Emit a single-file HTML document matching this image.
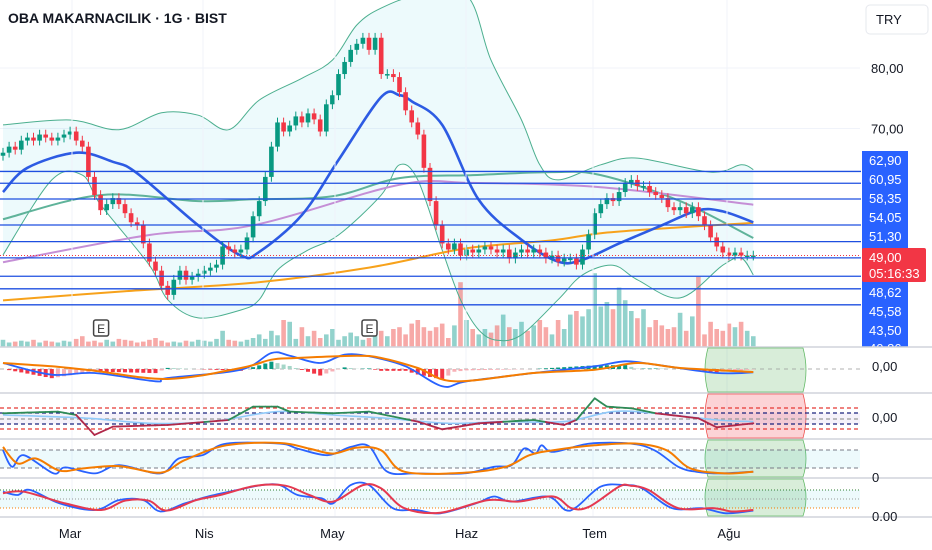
<!DOCTYPE html>
<html><head><meta charset="utf-8"><style>
html,body{margin:0;padding:0;background:#fff;}
svg{display:block;font-family:"Liberation Sans",sans-serif;}
</style></head><body>
<svg id="c" width="932" height="550" viewBox="0 0 932 550"></svg>
<script>
// ---- data ----
const closes=[66,67,66.5,68,68.5,68,69,68.5,68,68.5,69,69.5,68,67,62,59,56.5,57.5,58.5,57.5,56,54.5,54,51,48,46.5,44,42.5,45,46.5,45,45.5,46,46.5,47,47.5,50.5,50,49.5,50,52,55.5,58,62,67,71,69.5,70.5,72,71,72.5,71.5,69.5,74,75.5,79,81,83,84,85,83,85,79,79,78.5,76,73,71,69,63.5,58,54,51,50,51,49,50,49.5,50,50.5,50,49.5,50,48.5,49.5,50,49.5,50,49.5,48.5,49,48,48.5,48.5,47.5,50,52.5,56,57.5,58.5,58,59.5,61,61.5,60.5,60.5,59.5,59,58.5,57,56.5,57,56,57,55.5,54,52,50.5,49.5,49,49.5,49,49,49];
const volumes=[8,5,6,7,6,8,5,7,6,5,7,6,9,12,6,7,5,8,6,9,8,7,5,6,8,10,7,5,6,5,7,6,8,7,6,9,18,8,7,6,8,10,14,9,18,13,30,28,9,22,12,18,10,14,20,8,12,16,12,8,10,14,18,12,20,22,14,26,30,22,18,22,26,10,24,72,30,20,14,20,16,24,36,22,20,28,18,24,30,22,14,30,20,36,40,34,42,82,45,50,42,66,52,40,32,42,22,30,24,20,22,38,18,34,78,14,28,20,18,26,22,28,18,12];
const levels=[62.90,60.95,58.35,54.05,51.30,48.62,45.58,43.50,40.86];
const levelLabels=["62,90","60,95","58,35","54,05","51,30","48,62","45,58","43,50","40,86"];
const lastPrice=49.00;
const priceTicks=[80,70];
const priceTickLabels=["80,00","70,00"];
const maBlueIdx=[0,4,12,18,22,32,39,42,49,55,62,65,67,72,78,85,91,95,101,108,114,118,123];
const maBlueVal=[59.5,63.5,66,64.5,62.6,54,49,49.6,55.7,64.8,75.2,75.5,74.5,70.6,58.2,51.6,48,48.3,51,54,56.5,56.3,54.5];
const maOrangeIdx=[0,20,41,60,76,90,98,110,123];
const maOrangeVal=[41.6,43.1,44.5,47,50.2,51.5,52.7,53.6,54.4];
const maPurpleIdx=[0,24,41,65,77,98,123];
const maPurpleVal=[47.9,52.4,54,60.7,61,60.3,57.4];
const maTealIdx=[0,16,32,41,54,65,77,90,98,111,123];
const maTealVal=[55,59,58,58.3,58.8,61.8,62.3,62.8,62.3,58,51.9];
const bbUpIdx=[0,11,19,26,32,37,42,49,54,58,62,68,76,80,85,88,91,98,104,116,121,123];
const bbUpVal=[70.6,71.4,69.8,72.6,72.2,69.8,74.7,78.3,81.3,87.1,89.9,92,92,81.3,71.4,64,61.5,64,65.1,62.8,64,63.2];
const bbLoIdx=[0,8,13,16,24,27,32,39,42,45,50,55,62,65,68,72,75,78,81,85,91,95,100,104,111,118,121,123];
const bbLoVal=[49.1,61.5,62.3,57.4,47.4,41.7,38.7,40,41.7,46.6,49.9,52.4,59,64,61.5,49.9,41.7,36.7,35,35.9,41.7,45.8,47.4,45,42,47.4,48.6,45.8];
const macdIdx=[0,8,15,25,27,39,44,47,52,56,60,66,72,76,87,97,102,107,117,123];
const macdVal=[1.8,-1.7,-1.2,-3.7,-2.7,-0.2,4.8,4,1.8,4.3,3.8,0.8,-5.2,-3.7,-1.2,0.8,2.3,1.3,-1.2,-1];
const sigIdx=[0,8,15,27,39,44,48,58,62,68,74,87,97,104,111,123];
const sigVal=[1.8,0.8,-0.5,-3,0.3,2.8,3.3,4,3.3,0.3,-3.7,-1.2,-0.2,1.8,0.3,-0.9];
const oscIdx=[0,9,12,15,18,27,37,41,45,47,54,60,68,72,78,87,92,94,97,99,103,107,114,117,123];
const oscVal=[15,20,10,-50,-25,-20,-5,35,35,20,15,20,-10,-33,-15,-5,-20,-5,60,35,30,15,0,-27,-15];
const oscSigIdx=[0,14,24,34,45,54,63,73,82,92,100,107,117,123];
const oscSigVal=[10,0,-15,-10,20,10,0,-15,-10,-10,20,15,-5,-10];
const stKIdx=[0,1.5,3.4,8.3,10.2,15.1,19,25.8,28.8,32.7,36.6,45.4,48.3,53.2,57,60,63,67.8,75.6,80.5,83.4,85.4,87.3,88.3,90.2,96.1,102.9,106.8,110.7,113.6,117.6,123];
const stKVal=[75,25,60,5,23,5,30,5,50,60,95,95,80,60,85,87,10,5,5,25,30,80,65,90,70,95,95,75,25,10,5,10];
const stDIdx=[0,2.4,5.4,9.3,13.2,19,25.8,29.8,36.6,45.4,50.2,54.1,58,62,65.8,75.6,82.4,86.3,90.2,97,103.9,108.8,112.7,118.5,123];
const stDVal=[85,35,50,13,20,27,7,45,90,97,80,65,83,75,10,7,25,60,75,90,95,75,20,5,10];
const rBlueIdx=[0,2.4,4.4,9.3,15.1,19,23,25.8,29.8,33.6,38.5,42.4,45.4,48.3,52.2,54.1,57,60,63.9,67.8,71.7,77.5,80.5,83.4,89.3,92.2,94.1,98,101.9,104.8,109.7,114.6,118.5,123];
const rBlueVal=[72,61,78,33,11,44,44,6,33,56,78,94,94,61,50,33,94,94,17,11,0,33,56,39,56,11,22,89,94,83,17,17,0,9];
const rRedIdx=[0,3.4,10.2,16.1,20,23.9,26.8,31.7,35.6,41.5,46.3,50.2,54.1,59,62,65.8,71.7,79.5,84.4,90.2,93.2,96.1,101,102.9,105.8,110.7,116.6,119.5,123];
const rRedVal=[67,72,33,11,42,42,9,44,61,92,92,61,39,94,83,17,2,44,39,56,17,22,89,92,78,17,17,6,11];
const monthLabels=["Mar","Nis","May","Haz","Tem","Ağu"];
const monthIdx=[11,33,54,76,97,119];
const earningsIdx=[16,60];

// ---- scales ----
const xi=i=>3+i*6.1;
const py=p=>68+(80-p)*6.05;
const vy=v=>347-v*0.9;
const p1=v=>369-v*3.33;
const p2=v=>418.3-v/3;
const p3=v=>475-v*0.33;
const p4=v=>513.3-v*0.3;
const NS="http://www.w3.org/2000/svg";
const svg=document.getElementById('c');
function mk(tag,attrs,parent){const e=document.createElementNS(NS,tag);for(const k in attrs)e.setAttribute(k,attrs[k]);(parent||svg).appendChild(e);return e;}
function interp(ix,vals,t){if(t<=ix[0])return vals[0];for(let k=1;k<ix.length;k++){if(t<=ix[k]){const f=(t-ix[k-1])/(ix[k]-ix[k-1]);return vals[k-1]+f*(vals[k]-vals[k-1]);}}return vals[vals.length-1];}
function smooth(pts){let d=`M${pts[0][0]},${pts[0][1]}`;for(let k=0;k<pts.length-1;k++){const p0=pts[k-1]||pts[k],p1_=pts[k],p2_=pts[k+1],p3_=pts[k+2]||p2_;const c1x=p1_[0]+(p2_[0]-p0[0])/6,c1y=p1_[1]+(p2_[1]-p0[1])/6,c2x=p2_[0]-(p3_[0]-p1_[0])/6,c2y=p2_[1]-(p3_[1]-p1_[1])/6;d+=` C${c1x.toFixed(1)},${c1y.toFixed(1)} ${c2x.toFixed(1)},${c2y.toFixed(1)} ${p2_[0].toFixed(1)},${p2_[1].toFixed(1)}`;}return d;}
function pts(ix,vals,fy){return ix.map((i,k)=>[xi(i),fy(vals[k])]);}

const defs=mk('defs',{});
const cp=mk('clipPath',{id:'main'},defs);mk('rect',{x:0,y:0,width:860,height:347},cp);
const g=mk('g',{'clip-path':'url(#main)'});



[72,203,335,466,593,727].forEach(x=>{const l=mk('line',{x1:x,y1:0,x2:x,y2:517,stroke:'#f0f3fa','stroke-width':1});});
priceTicks.forEach(p=>{const l=mk('line',{x1:0,y1:py(p),x2:860,y2:py(p),stroke:'#f0f3fa'},g);});

const up=pts(bbUpIdx,bbUpVal,py), lo=pts(bbLoIdx,bbLoVal,py);
const upD=smooth(up); const loRev=lo.slice().reverse();
const fill=mk('path',{d:upD+' L'+loRev[0][0]+','+loRev[0][1]+smooth(loRev).slice(smooth(loRev).indexOf('C')-1)+' Z',fill:'rgba(0,188,212,0.07)',stroke:'none'},g);


volumes.forEach((v,i)=>{const o=i?closes[i-1]:closes[0]-0.5;const upc=closes[i]>=o;const r=mk('rect',{x:xi(i)-2.3,y:vy(v),width:4.6,height:347-vy(v),fill:upc?'rgba(38,166,154,0.5)':'rgba(239,83,80,0.5)'},g);});

levels.forEach(p=>{const l=mk('line',{x1:0,y1:py(p),x2:861,y2:py(p),stroke:'#1e4fe0','stroke-width':1.3});});

const bu=mk('path',{d:upD,fill:'none',stroke:'#4caf8f','stroke-width':1},g);
const bl=mk('path',{d:smooth(lo),fill:'none',stroke:'#4caf8f','stroke-width':1},g);
const mt=mk('path',{d:smooth(pts(maTealIdx,maTealVal,py)),fill:'none',stroke:'#5fb39a','stroke-width':2},g);
const mp=mk('path',{d:smooth(pts(maPurpleIdx,maPurpleVal,py)),fill:'none',stroke:'#c58fd6','stroke-width':2},g);
const mo=mk('path',{d:smooth(pts(maOrangeIdx,maOrangeVal,py)),fill:'none',stroke:'#f7a21b','stroke-width':2},g);
const mb=mk('path',{d:smooth(pts(maBlueIdx,maBlueVal,py)),fill:'none',stroke:'#2d5be3','stroke-width':2.6},g);

const lp=mk('line',{x1:0,y1:py(lastPrice),x2:861,y2:py(lastPrice),stroke:'#f23645','stroke-width':1,'stroke-dasharray':'1,2'});

closes.forEach((c,i)=>{const o=i?closes[i-1]:c-0.5;const upc=c>=o;const col=upc?'#089981':'#f23645';const hi=Math.max(o,c)+0.8,low=Math.min(o,c)-0.8;const x=xi(i);
const w=mk('line',{x1:x,y1:py(hi),x2:x,y2:py(low),stroke:col,'stroke-width':1},g);
const h=Math.max(1.5,Math.abs(py(o)-py(c)));const b=mk('rect',{x:x-2.3,y:Math.min(py(o),py(c)),width:4.6,height:h,fill:col},g);});

earningsIdx.forEach(i=>{const gg=mk('g',{});mk('rect',{x:xi(i)-7,y:320,width:15,height:16,rx:2,fill:'#fff',stroke:'#444','stroke-width':1.5},gg);const t=mk('text',{x:xi(i)+0.5,y:333,'font-size':12,'text-anchor':'middle',fill:'#333'},gg);t.textContent='E';});

const ti=mk('text',{x:8,y:23,'font-size':14,'font-weight':'bold',fill:'#131722'});ti.textContent='OBA MAKARNACILIK · 1G · BIST';
const tb=mk('rect',{x:866,y:5,width:62,height:29,rx:4,fill:'#fff',stroke:'#e6e8ee'});
const tt=mk('text',{x:876,y:24,'font-size':13,fill:'#131722'});tt.textContent='TRY';
priceTicks.forEach((p,k)=>{const t=mk('text',{x:871,y:py(p)+5,'font-size':13,fill:'#131722'});t.textContent=priceTickLabels[k];});

const lb=mk('rect',{x:862,y:151,width:46,height:196,fill:'#2962ff'});
const labelYs=[165,184,203,222,241,297,316,335,353];
levelLabels.forEach((s,k)=>{const t=mk('text',{x:869,y:labelYs[k],'font-size':13,fill:'#fff'});t.textContent=s;});
const rb=mk('rect',{x:862,y:248,width:64,height:34,rx:2,fill:'#f23645'});
const r1=mk('text',{x:869,y:262,'font-size':13,fill:'#fff'});r1.textContent='49,00';
const r2=mk('text',{x:869,y:278,'font-size':13,fill:'#fff'});r2.textContent='05:16:33';
mk('rect',{x:860,y:347,width:72,height:6,fill:'#fff'});

[347,393,439,478,517].forEach(y=>{const l=mk('line',{x1:0,y1:y,x2:932,y2:y,stroke:'#d1d4dc','stroke-width':1.5});});

function oval(y1,y2,fillc,strokec,name){const p=mk('path',{d:`M708,${y1} Q702,${(y1+y2)/2} 708,${y2} L803,${y2} Q809,${(y1+y2)/2} 803,${y1} Z`,fill:fillc,stroke:strokec,'stroke-width':0.8});}
oval(348,392,'rgba(76,175,80,0.22)','#66bb6a','macd-highlight');
oval(394,438,'rgba(242,54,69,0.22)','#ef5350','oscillator-highlight');
oval(440,477,'rgba(76,175,80,0.22)','#66bb6a','stochastic-highlight');
oval(479,516,'rgba(76,175,80,0.22)','#66bb6a','rsi-highlight');

mk('line',{x1:0,y1:369,x2:860,y2:369,stroke:'#999','stroke-dasharray':'4,4','stroke-width':0.8});
for(let i=0;i<124;i++){const d=interp(macdIdx,macdVal,i)-interp(sigIdx,sigVal,i);const prev=interp(macdIdx,macdVal,i-1)-interp(sigIdx,sigVal,i-1);const col=d>=0?(d>=prev?'#089981':'#a5d6c8'):(d<=prev?'#f23645':'#f7b0b6');const h=d*3.33*1.1;const r=mk('rect',{x:xi(i)-2,y:h>=0?369-h:369,width:4,height:Math.abs(h),fill:col});}
const m1=mk('path',{d:smooth(pts(macdIdx,macdVal,p1)),fill:'none',stroke:'#2962ff','stroke-width':1.8});
const m2=mk('path',{d:smooth(pts(sigIdx,sigVal,p1)),fill:'none',stroke:'#f57c00','stroke-width':2});

mk('rect',{x:0,y:413,width:860,height:11,fill:'rgba(126,87,194,0.08)'});
[[408,'#e53935'],[413,'#1a237e'],[419,'#999'],[424,'#1a237e'],[429,'#e53935']].forEach(a=>{const l=mk('line',{x1:0,y1:a[0],x2:860,y2:a[0],stroke:a[1],'stroke-width':1.3,'stroke-dasharray':'4,3'});});
const os=mk('path',{d:smooth(pts(oscSigIdx,oscSigVal,p2)),fill:'none',stroke:'#90caf9','stroke-width':1.6});
for(let i=0;i<123;i++){const a=interp(oscIdx,oscVal,i),b=interp(oscIdx,oscVal,i+1);const s=interp(oscSigIdx,oscSigVal,i+0.5);const col=(a+b)/2>=s?'#2e8b57':'#b0284a';const l=mk('line',{x1:xi(i),y1:p2(a),x2:xi(i+1),y2:p2(b),stroke:col,'stroke-width':1.8,'stroke-linecap':'round'});}

mk('rect',{x:0,y:450,width:860,height:18,fill:'rgba(0,188,212,0.07)'});
[450,468].forEach(y=>{const l=mk('line',{x1:0,y1:y,x2:860,y2:y,stroke:'#787b86','stroke-dasharray':'4,3'});});
const sk=mk('path',{d:smooth(pts(stKIdx,stKVal,p3)),fill:'none',stroke:'#2962ff','stroke-width':1.8});
const sd=mk('path',{d:smooth(pts(stDIdx,stDVal,p3)),fill:'none',stroke:'#f57c00','stroke-width':2});

mk('rect',{x:0,y:490,width:860,height:18,fill:'rgba(0,188,212,0.07)'});
[[490,'#2e7d32'],[499,'#999'],[508,'#f57c00']].forEach(a=>{const l=mk('line',{x1:0,y1:a[0],x2:860,y2:a[0],stroke:a[1],'stroke-dasharray':'1,2'});});
const rbl=mk('path',{d:smooth(pts(rBlueIdx,rBlueVal,p4)),fill:'none',stroke:'#2962ff','stroke-width':1.8});
const rrl=mk('path',{d:smooth(pts(rRedIdx,rRedVal,p4)),fill:'none',stroke:'#e53950','stroke-width':2});

[[367,'0,00'],[418,'0,00'],[478,'0'],[517,'0.00']].forEach(a=>{const t=mk('text',{x:872,y:a[0]+4,'font-size':13,fill:'#131722'});t.textContent=a[1];});

monthLabels.forEach((m,k)=>{const t=mk('text',{x:xi(monthIdx[k]),y:538,'font-size':13,'text-anchor':'middle',fill:'#131722'});t.textContent=m;});
</script>
</body></html>
